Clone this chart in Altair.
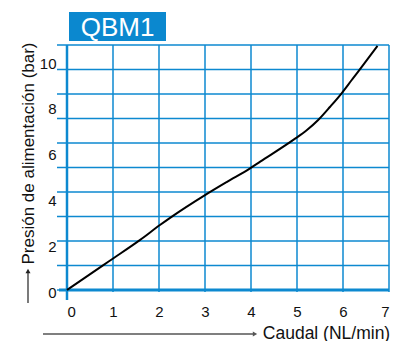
import altair as alt
import pandas as pd

# ---- data ----
flow = [0, 0.79, 1.01, 1.59, 2.02, 2.28, 3.00, 3.47, 3.98, 4.20, 4.92, 5.21,
        5.46, 5.72, 5.97, 6.19, 6.33, 6.75]
pressure = [0, 1.09, 1.39, 2.19, 2.84, 3.21, 4.15, 4.72, 5.32, 5.61, 6.56, 6.98,
            7.43, 8.01, 8.60, 9.18, 9.55, 10.67]
x_ticks = [0, 1, 2, 3, 4, 5, 6, 7]
y_ticks = [0, 2, 4, 6, 8, 10]
grid_rows = [0, 1, 2, 3, 4, 5, 6, 7, 8, 9, 10]
grid_cols = [1, 2, 3, 4, 5, 6, 7]
title_text = "QBM1"
x_title = "Caudal (NL/min)"
y_title = "Presión de alimentación (bar)"

W, H = 322, 245
BLUE = "#0d89d0"
NARROW = "Liberation Sans Narrow, Arial Narrow, Liberation Sans, sans-serif"
SANS = "Liberation Sans, Arial, sans-serif"

curve_df = pd.DataFrame({"flow": flow, "pressure": pressure})
rows_df = pd.DataFrame({"row": grid_rows})
cols_df = pd.DataFrame({"col": grid_cols})
one = pd.DataFrame({"k": [0]})

x_scale = alt.Scale(domain=[0, 7])
x_axis = alt.Axis(values=x_ticks, title=x_title, grid=False, domain=False, ticks=False,
                  labelPadding=14, labelFontSize=15, labelFont=NARROW, labelColor="#111111",
                  titleFont=SANS, titleFontSize=17.5, titleFontWeight="normal",
                  titleColor="#111111", titleX=259, titleY=43,
                  titleAlign="center", titleBaseline="middle")

hgrid = alt.Chart(rows_df).mark_rule(color=BLUE, strokeWidth=1.5).encode(
    y=alt.Y("row:Q", scale=alt.Scale(domain=[0, 10]), axis=None),
    x=alt.value(-10), x2=alt.value(W),
)

vgrid = alt.Chart(cols_df).mark_rule(color=BLUE, strokeWidth=1.5).encode(
    x=alt.X("col:Q", scale=x_scale, axis=x_axis),
    y=alt.value(0), y2=alt.value(H + 2),
)

left_border = alt.Chart(one).mark_rect(color=BLUE).encode(
    x=alt.value(-1.25), x2=alt.value(1.25), y=alt.value(0), y2=alt.value(H + 10),
)

bottom_border = alt.Chart(one).mark_rect(color=BLUE).encode(
    x=alt.value(-8), x2=alt.value(W), y=alt.value(H - 1.5), y2=alt.value(H + 1.5),
)

curve = alt.Chart(curve_df).mark_line(color="#000000", strokeWidth=2, interpolate="monotone").encode(
    x=alt.X("flow:Q", scale=x_scale, axis=x_axis),
    y=alt.Y("pressure:Q", scale=alt.Scale(domain=[0, 10.71]),
            axis=alt.Axis(values=y_ticks, title=y_title, grid=False, domain=False, ticks=False,
                          labelPadding=11, labelOffset=2, labelFontSize=15, labelFont=NARROW,
                          labelColor="#111111", labelBaseline="middle",
                          titleFont=SANS, titleFontSize=17, titleFontWeight="normal",
                          titleColor="#111111", titleX=-39, titleY=108, titleAngle=270,
                          titleAlign="center", titleBaseline="middle")),
)

title_box = alt.Chart(one).mark_rect(color="#0b88cf").encode(
    x=alt.value(2), x2=alt.value(99), y=alt.value(-33), y2=alt.value(-4),
)
title_label = alt.Chart(one).mark_text(color="white", fontSize=26, font=SANS,
                                        align="center", baseline="middle").encode(
    x=alt.value(50.5), y=alt.value(-17.5), text=alt.value(title_text),
)

y_arrow_line = alt.Chart(one).mark_rect(color="#222222").encode(
    x=alt.value(-39.6), x2=alt.value(-38.4), y=alt.value(258), y2=alt.value(228),
)
y_arrow_head = alt.Chart(one).mark_point(shape="triangle-up", filled=True,
                                         color="#222222", opacity=1, size=25).encode(
    x=alt.value(-39), y=alt.value(226),
)
x_arrow_line = alt.Chart(one).mark_rect(color="#555555").encode(
    x=alt.value(-24), x2=alt.value(186), y=alt.value(288.3), y2=alt.value(289.7),
)
x_arrow_head = alt.Chart(one).mark_point(shape="triangle-right", filled=True,
                                         color="#555555", opacity=1, size=25).encode(
    x=alt.value(188), y=alt.value(289),
)

chart = alt.layer(
    hgrid, vgrid, left_border, bottom_border, curve,
    title_box, title_label, y_arrow_line, y_arrow_head, x_arrow_line, x_arrow_head,
).resolve_scale(y="independent").properties(
    width=W, height=H,
    autosize=alt.AutoSizeParams(type="none"),
    padding={"left": 59, "top": 37, "right": 1, "bottom": 51},
    background="white",
).configure_view(stroke=None)

chart.save("out.html", embed_options={"renderer": "svg", "actions": False})
